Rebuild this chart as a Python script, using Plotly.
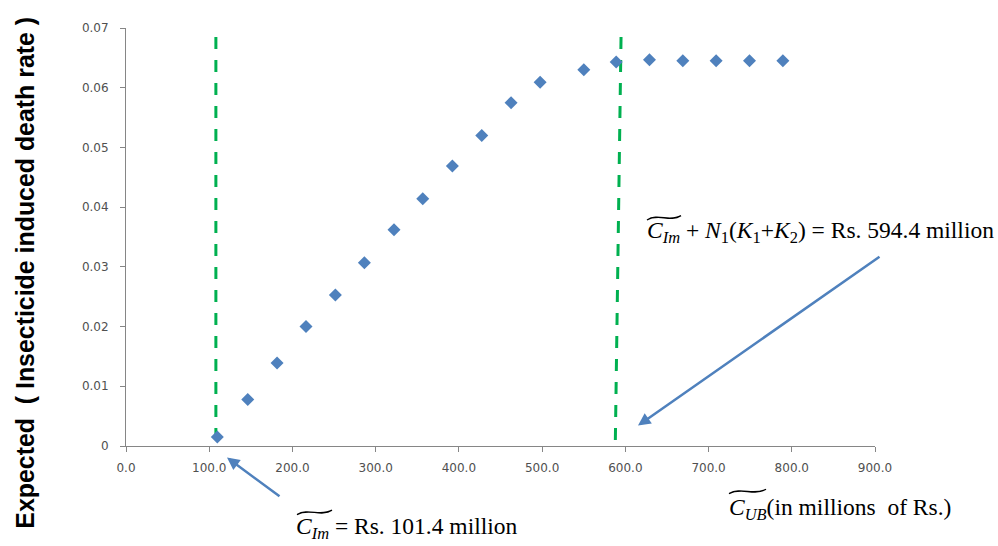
import plotly.graph_objects as go

# ---- data ----
cost_ub = [109.7, 146.3, 181.5, 216.3, 251.6, 286.4, 322.0, 356.6, 392.2, 427.5,
           462.7, 497.6, 550.1, 589.0, 629.0, 669.1, 709.1, 749.2, 789.3]
death_rate = [0.0015, 0.0078, 0.0139, 0.0200, 0.0253, 0.0307, 0.0362, 0.0414, 0.0469, 0.0520,
              0.0575, 0.0609, 0.0630, 0.0643, 0.0647, 0.0645, 0.0645, 0.0645, 0.0645]

c_im_x = [108.0, 108.0]
c_im_y = [0.0010, 0.0700]
c_max_x = [588.0, 595.0]
c_max_y = [0.0010, 0.0700]

x_ticks = [0, 100, 200, 300, 400, 500, 600, 700, 800, 900]
x_tick_labels = ["0.0", "100.0", "200.0", "300.0", "400.0", "500.0", "600.0", "700.0", "800.0", "900.0"]
y_ticks = [0, 0.01, 0.02, 0.03, 0.04, 0.05, 0.06, 0.07]
y_tick_labels = ["0", "0.01", "0.02", "0.03", "0.04", "0.05", "0.06", "0.07"]

W, H = 998, 546
L, R, T, B = 126, 875, 28, 446.5


def px(xp):
    return (xp - L) / (R - L)


def py(yp):
    return (B - yp) / (B - T)


def tilde_path(x0, x1, yc, h=2.2):
    w = x1 - x0
    pts = [(x0, yc + h), (x0 + w / 3, yc - 2.2 * h), (x0 + 2 * w / 3, yc + 2.2 * h), (x1, yc - h)]
    p = [(px(a), py(b)) for a, b in pts]
    return "M {:.5f},{:.5f} C {:.5f},{:.5f} {:.5f},{:.5f} {:.5f},{:.5f}".format(
        p[0][0], p[0][1], p[1][0], p[1][1], p[2][0], p[2][1], p[3][0], p[3][1])


fig = go.Figure()

dash_green = dict(color="#00B050", width=3, dash="12px,11px")
fig.add_trace(go.Scatter(x=c_im_x, y=c_im_y, mode="lines", line=dash_green,
                         showlegend=False, hoverinfo="skip"))
fig.add_trace(go.Scatter(x=c_max_x, y=c_max_y, mode="lines", line=dash_green,
                         showlegend=False, hoverinfo="skip"))
fig.add_trace(go.Scatter(x=cost_ub, y=death_rate, mode="markers",
                         marker=dict(symbol="diamond", size=10, color="#4F81BD"),
                         showlegend=False))

tick_font = dict(family="DejaVu Sans", size=12, color="#505050")
fig.update_xaxes(range=[0, 900], tickvals=x_ticks, ticktext=x_tick_labels,
                 showgrid=False, zeroline=False, showline=True, linecolor="#868686",
                 linewidth=1, ticks="outside", ticklen=5, tickcolor="#868686",
                 tickfont=tick_font, ticklabelstandoff=6)
fig.update_yaxes(range=[0, 0.07], tickvals=y_ticks, ticktext=y_tick_labels,
                 showgrid=False, zeroline=False, showline=True, linecolor="#868686",
                 linewidth=1, ticks="outside", ticklen=5, tickcolor="#868686",
                 tickfont=tick_font, ticklabelstandoff=9)

serif = dict(family="Liberation Serif", size=23.5, color="black")
arrow_col = "#4F81BD"
XR, YR = "x domain", "y domain"
annotations = [
    # y-axis title
    dict(xref=XR, yref=YR, x=px(25), y=py(273), textangle=-90,
         text="Expected\u00a0 ( Insecticide induced death rate )", showarrow=False,
         font=dict(family="Liberation Sans", size=24.9, color="black", weight="bold"),
         xanchor="center", yanchor="middle"),
    # x-axis label
    dict(xref=XR, yref=YR, x=px(727), y=py(510),
         text="<i>C</i><sub><i>UB</i></sub>(in millions\u00a0 of Rs.)", showarrow=False,
         font=serif, xanchor="left", yanchor="middle"),
    # label 1
    dict(xref=XR, yref=YR, x=px(294), y=py(529),
         text="<i>C</i><sub><i>Im</i></sub> = Rs. 101.4 million", showarrow=False,
         font=serif, xanchor="left", yanchor="middle"),
    # label 2
    dict(xref=XR, yref=YR, x=px(645), y=py(232),
         text="<i>C</i><sub><i>Im</i></sub> + <i>N</i><sub>1</sub>(<i>K</i><sub>1</sub>+<i>K</i><sub>2</sub>) = Rs. 594.4 million",
         showarrow=False, font=serif, xanchor="left", yanchor="middle"),
    # arrow 1
    dict(xref=XR, yref=YR, x=px(227), y=py(458),
         axref=XR, ayref=YR, ax=px(281), ay=py(498),
         text="", showarrow=True, arrowhead=2, arrowsize=1, arrowwidth=2.5,
         arrowcolor=arrow_col),
    # arrow 2
    dict(xref=XR, yref=YR, x=px(638), y=py(426),
         axref=XR, ayref=YR, ax=px(881), ay=py(256),
         text="", showarrow=True, arrowhead=2, arrowsize=1, arrowwidth=2.5,
         arrowcolor=arrow_col),
]

tilde_line = dict(color="black", width=1.4)
shapes = [
    dict(type="path", xref="paper", yref="paper", path=tilde_path(297, 332, 513), line=tilde_line),
    dict(type="path", xref="paper", yref="paper", path=tilde_path(647, 681, 218), line=tilde_line),
    dict(type="path", xref="paper", yref="paper", path=tilde_path(729, 766, 492), line=tilde_line),
]

fig.update_layout(width=W, height=H, margin=dict(l=L, r=W - R, t=T, b=H - B),
                  plot_bgcolor="white", paper_bgcolor="white",
                  annotations=annotations, shapes=shapes, showlegend=False)

fig.write_html("out.html")
